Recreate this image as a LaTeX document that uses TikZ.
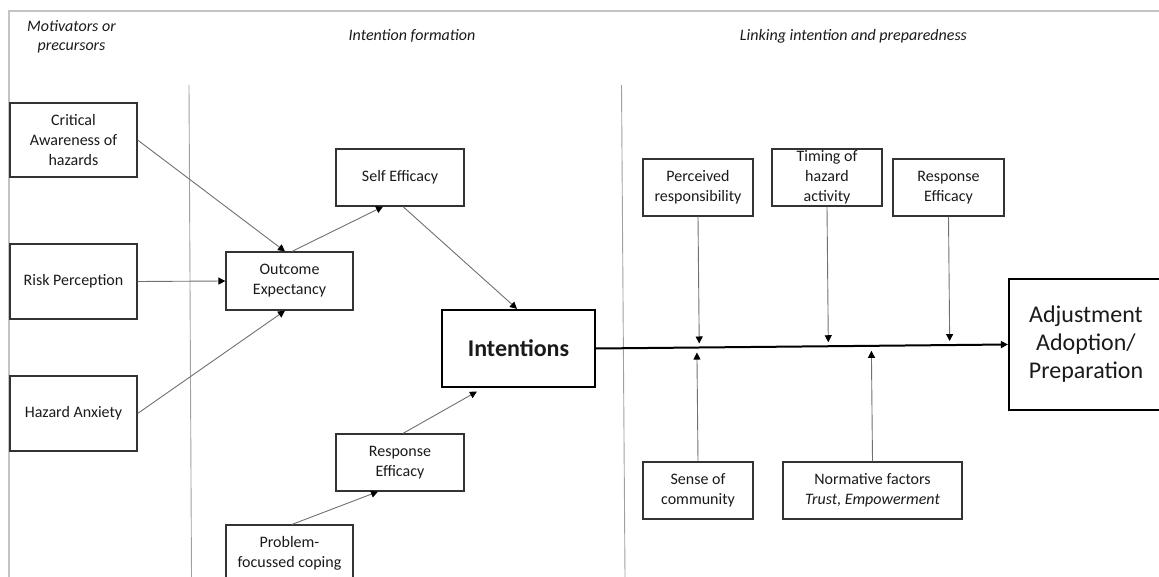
\documentclass[tikz,border=0pt]{standalone}
\usepackage{fontspec}
\setmainfont{Carlito}
\usetikzlibrary{arrows.meta,calc}

\definecolor{framegray}{HTML}{C4C4C4}
\definecolor{divgray}{HTML}{A0A0A0}
\definecolor{linkgray}{HTML}{707070}
\definecolor{boxgray}{HTML}{333333}
\definecolor{txt}{HTML}{1A1A1A}

\tikzset{
  box/.style={draw=boxgray, line width=1.2pt, inner sep=0pt, align=center,
    text=txt, font=\fontsize{16}{20}\selectfont},
  bigbox/.style={draw=black, line width=2.2pt, inner sep=0pt, align=center,
    text=txt},
  heading/.style={align=center, text=txt, font=\fontsize{16}{19}\selectfont\itshape},
  tip/.style={-{Triangle[length=7pt,width=7pt,color=black]}},
  link/.style={draw=linkgray, line width=0.9pt, tip},
  mainlink/.style={draw=black, line width=2pt, tip}
}

\begin{document}
\begin{tikzpicture}[x=1pt,y=-1pt]
\useasboundingbox (0,0) rectangle (1159,577);

% outer frame (top and left edges)
\draw[framegray, line width=1.5pt] (1159,11) -- (9,11) -- (9,577);
% column dividers
\draw[divgray, line width=0.9pt] (189,85) -- (191.5,577);
\draw[divgray, line width=0.9pt] (621.5,85) -- (625,577);

% column headings
\node[heading] (h1) at (71.5,36.5) {Motivators or\\precursors};
\node[heading] (h2) at (412,36) {Intention formation};
\node[heading] (h3) at (853.5,36) {Linking intention and preparedness};

% precursors
\node[box, minimum width=127pt, minimum height=74pt] (crit) at (73.5,140) {Critical\\Awareness of\\hazards};
\node[box, minimum width=127pt, minimum height=75pt] (risk) at (73.5,281.5) {Risk Perception};
\node[box, minimum width=127pt, minimum height=75pt] (anx)  at (73.5,413.5) {Hazard Anxiety};

% intention formation
\node[box, minimum width=127pt, minimum height=58pt] (outc) at (289.5,281) {Outcome\\Expectancy};
\node[box, minimum width=128pt, minimum height=57pt] (self) at (400,177.5) {Self Efficacy};
\node[box, minimum width=128pt, minimum height=57pt] (resl) at (400,462.5) {Response\\Efficacy};
\node[box, minimum width=127pt, minimum height=57pt] (prob) at (289.5,553.5) {Problem-\\focussed coping};
\node[bigbox, minimum width=153pt, minimum height=77pt,
      font=\fontsize{24}{28}\selectfont\bfseries] (int) at (518.5,348.5) {Intentions};

% linking intention and preparedness
\node[box, minimum width=110pt, minimum height=57pt] (perc) at (698,187.5) {Perceived\\responsibility};
\node[box, minimum width=110pt, minimum height=57pt] (tim)  at (827,177.5) {Timing of\\hazard\\activity};
\node[box, minimum width=111pt, minimum height=57pt] (resr) at (948.5,187.5) {Response\\Efficacy};
\node[box, minimum width=110pt, minimum height=57pt] (sense) at (698,490.5) {Sense of\\community};
\node[box, minimum width=179pt, minimum height=57pt] (norm) at (872.5,490.5) {Normative factors\\\textit{Trust, Empowerment}};
\node[bigbox, minimum width=154pt, minimum height=131pt,
      font=\fontsize{24}{28}\selectfont] (adj) at (1086,344.5) {Adjustment\\Adoption/\\Preparation};

% precursors feeding outcome expectancy
\draw[link] (crit.east) -- ($(outc.north)+(-4.5,0)$);
\draw[link] (risk.east) -- (outc.west);
\draw[link] (anx.east) -- ($(outc.south)+(-4.5,0)$);

% routes to intentions
\draw[link] ($(outc.north)+(2.5,0)$) -- ($(self.south)+(-17,0)$);
\draw[link] ($(self.south)+(3,0)$) -- ($(int.north)+(-1.5,0)$);
\draw[link] ($(prob.north)+(2.5,0)$) -- ($(resl.south)+(-22,0)$);
\draw[link, shorten >=7pt] ($(resl.north)+(3,0)$) -- ($(int.south)+(-35.5,0)$);

% intentions to adjustment
\draw[mainlink] (int.east) -- (adj.west);

% moderators acting on the intention-preparation link
\coordinate (mperc)  at ($(int.east)!(perc.south)!(adj.west)$);
\coordinate (mtim)   at ($(int.east)!(tim.south)!(adj.west)$);
\coordinate (mresr)  at ($(int.east)!(resr.south)!(adj.west)$);
\coordinate (msense) at ($(int.east)!(sense.north)!(adj.west)$);
\coordinate (mnorm)  at ($(int.east)!(norm.north)!(adj.west)$);

\draw[link, shorten >=4pt] (perc.south) -- (mperc);
\draw[link, shorten >=4pt] (tim.south) -- (mtim);
\draw[link, shorten >=4pt] (resr.south) -- (mresr);
\draw[link, shorten >=5pt] (sense.north) -- (msense);
\draw[link, shorten >=5pt] (norm.north) -- (mnorm);
\end{tikzpicture}
\end{document}
